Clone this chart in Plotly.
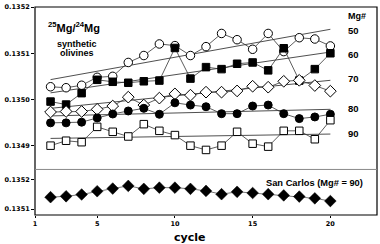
import plotly.graph_objects as go
from plotly.subplots import make_subplots

cycles = list(range(2, 21))

mg50 = [0.1350276, 0.1350255, 0.1350308, 0.1350480, 0.1350501, 0.1350801, 0.1350951,
        0.1351201, 0.1351165, 0.1350951, 0.1351143, 0.1351428, 0.1351293, 0.1351086,
        0.1351428, 0.1351036, 0.1351336, 0.1351308, 0.1351158]
mg60 = [0.1349955, 0.1349891, 0.1350137, 0.1350426, 0.1350383, 0.1350362, 0.1350394,
        0.1350409, 0.1351114, 0.1350452, 0.1350700, 0.1350657, 0.1350773, 0.1350801,
        0.1350630, 0.1351108, 0.1350409, 0.1350657, 0.1351000]
mg70 = [0.1349730, 0.1349741, 0.1349741, 0.1349788, 0.1349859, 0.1350051, 0.1349880,
        0.1350030, 0.1350122, 0.1350094, 0.1350159, 0.1350159, 0.1350186, 0.1350287,
        0.1350266, 0.1350394, 0.1350415, 0.1350302, 0.1350180]
mg80 = [0.1349495, 0.1349495, 0.1349510, 0.1349602, 0.1349687, 0.1349752, 0.1349809,
        0.1349681, 0.1349929, 0.1349880, 0.1349844, 0.1349694, 0.1349694, 0.1349859,
        0.1349880, 0.1349694, 0.1349587, 0.1349623, 0.1349681]
mg90 = [0.1349002, 0.1349109, 0.1349077, 0.1349409, 0.1349302, 0.1349201, 0.1349467,
        0.1349323, 0.1349231, 0.1349002, 0.1348910, 0.1349002, 0.1349302, 0.1349045,
        0.1348981, 0.1349323, 0.1349323, 0.1349141, 0.1349553]
san_carlos = [0.135140, 0.135143, 0.135149, 0.135160, 0.135169, 0.135178, 0.135168,
              0.135172, 0.135172, 0.135168, 0.135161, 0.135150, 0.135158, 0.135154,
              0.135150, 0.135146, 0.135142, 0.135136, 0.135127]

# regression line end values (at cycle 2 and cycle 20)
fit_x = [2, 20]
fit50 = [0.1350430, 0.1351518]
fit60 = [0.1350144, 0.1351026]
fit70 = [0.1349809, 0.1350415]
fit80 = [0.1349645, 0.1349788]
fit90 = [0.1349159, 0.1349253]

mg_labels = ["50", "60", "70", "80", "90"]
top_ticks = [0.1349, 0.1350, 0.1351, 0.1352]
bottom_ticks = [0.1351, 0.1352]
x_ticks = [1, 5, 10, 15, 20]

fig = make_subplots(rows=2, cols=1, shared_xaxes=True, vertical_spacing=0,
                    row_heights=[0.781, 0.219])

# fit lines
for f in [fit50, fit60, fit70, fit80, fit90]:
    fig.add_trace(go.Scatter(x=fit_x, y=f, mode="lines",
                             line=dict(color="#222", width=0.8),
                             hoverinfo="skip"), row=1, col=1)

series = [
    (mg50, "circle", "white", 8.5),
    (mg60, "square", "black", 7.5),
    (mg70, "diamond", "white", 9),
    (mg80, "circle", "black", 8),
    (mg90, "square", "white", 7.5),
]
for ys, sym, fill, sz in series:
    fig.add_trace(go.Scatter(x=cycles, y=ys, mode="lines+markers",
                             line=dict(color="#333", width=0.8),
                             marker=dict(symbol=sym, size=sz, color=fill,
                                         line=dict(color="black", width=1))),
                  row=1, col=1)

fig.add_trace(go.Scatter(x=cycles, y=san_carlos, mode="lines+markers",
                         line=dict(color="#555", width=0.8),
                         marker=dict(symbol="diamond", size=9, color="black",
                                     line=dict(color="black", width=0.5))),
              row=2, col=1)

tickfont = dict(family="DejaVu Sans", size=6.5, color="black", weight="bold")

fig.update_xaxes(range=[1, 23], showgrid=False, zeroline=False, showline=False,
                 tickvals=x_ticks)
fig.update_xaxes(showticklabels=False, ticks="", row=1, col=1)
fig.update_xaxes(ticks="outside", ticklen=2, tickcolor="black", tickfont=tickfont,
                 row=2, col=1)

fig.update_yaxes(range=[0.1348488, 0.1352], tickvals=top_ticks,
                 ticktext=[f"{v:.4f}" for v in top_ticks], row=1, col=1)
fig.update_yaxes(range=[0.13508, 0.1352333], tickvals=bottom_ticks,
                 ticktext=[f"{v:.4f}" for v in bottom_ticks], row=2, col=1)
fig.update_yaxes(showgrid=False, zeroline=False, showline=False, ticks="outside",
                 ticklen=3, tickcolor="black", tickfont=tickfont)

# frame and separator
fig.add_shape(type="rect", xref="paper", yref="paper", x0=0, x1=1, y0=0, y1=1,
              line=dict(color="black", width=1.2))
fig.add_shape(type="line", xref="paper", yref="paper", x0=0, x1=1, y0=0.219, y1=0.219,
              line=dict(color="#888", width=1))

lab = dict(family="Liberation Sans", color="black", weight="bold")
ann = [
    dict(x=0.114, y=0.905, text="<sup>25</sup>Mg/<sup>24</sup>Mg", size=11),
    dict(x=0.124, y=0.822, text="synthetic", size=9),
    dict(x=0.124, y=0.780, text="olivines", size=9),
    dict(x=0.9406, y=0.957, text="Mg#", size=9),
]
label_y = [0.886, 0.771, 0.657, 0.514, 0.390]
for t, yy in zip(mg_labels, label_y):
    ann.append(dict(x=0.9327, y=yy, text=t, size=9.5))
for a in ann:
    fig.add_annotation(x=a["x"], y=a["y"], xref="paper", yref="paper", text=a["text"],
                       showarrow=False, xanchor="center", yanchor="middle",
                       font=dict(size=a["size"], **lab))
fig.add_annotation(x=0.965, y=0.152, xref="paper", yref="paper",
                   text="San Carlos (Mg# = 90)", showarrow=False,
                   xanchor="right", yanchor="middle", font=dict(size=9.3, **lab))
fig.add_annotation(x=0.453, y=-0.1095, xref="paper", yref="paper", text="cycle",
                   showarrow=False, xanchor="center", yanchor="middle",
                   font=dict(family="DejaVu Sans", size=11, color="black", weight="bold"))

fig.update_layout(width=380, height=244, showlegend=False,
                  margin=dict(l=35, r=3, t=5, b=29),
                  plot_bgcolor="white", paper_bgcolor="white")

fig.write_html("out.html",
               config={"displayModeBar": False, "staticPlot": True},
               post_script="document.body.style.margin='0';document.body.style.padding='0';")
